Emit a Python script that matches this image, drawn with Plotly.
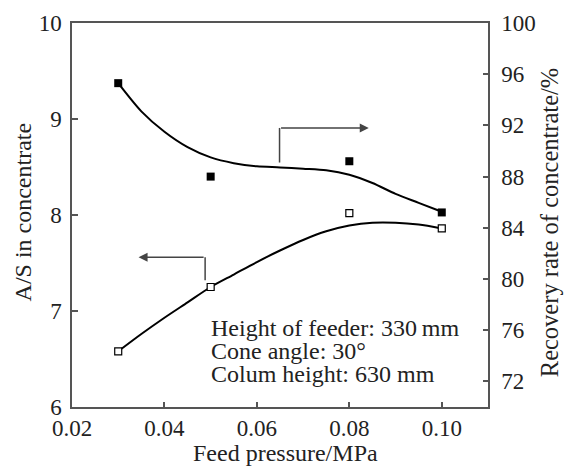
import plotly.graph_objects as go

# Measured points
pressure = [0.03, 0.05, 0.08, 0.10]
as_ratio = [6.58, 7.25, 8.02, 7.86]
recovery = [95.3, 88.0, 89.2, 85.2]

# Fitted trend lines
fit_pressure = [0.030, 0.035, 0.040, 0.045, 0.050, 0.055, 0.060, 0.065,
                0.070, 0.075, 0.080, 0.085, 0.090, 0.095, 0.100]
fit_as_ratio = [6.58, 6.76, 6.93, 7.09, 7.25, 7.38, 7.51, 7.63,
                7.74, 7.83, 7.89, 7.92, 7.92, 7.90, 7.86]
fit_recovery = [95.3, 93.1, 91.5, 90.3, 89.5, 89.05, 88.8, 88.72,
                88.62, 88.5, 88.15, 87.5, 86.65, 85.95, 85.25]

x_ticks = [0.02, 0.04, 0.06, 0.08, 0.10]
x_tick_text = ["0.02", "0.04", "0.06", "0.08", "0.10"]
left_ticks = [6, 7, 8, 9, 10]
right_ticks = [72, 76, 80, 84, 88, 92, 96, 100]

x_title = "Feed pressure/MPa"
left_title = "A/S in concentrate"
right_title = "Recovery rate of concentrate/%"
notes = ["Height of feeder: 330\u2009mm", "Cone angle: 30\u00b0", "Colum height: 630 mm"]

FONT = "Liberation Serif"
AXIS_COLOR = "#555555"
TEXT_COLOR = "#222222"

fig = go.Figure()

fig.add_trace(go.Scatter(x=fit_pressure, y=fit_as_ratio, mode="lines",
                         line=dict(color="black", width=2, shape="spline", smoothing=0.8),
                         hoverinfo="skip", showlegend=False))
fig.add_trace(go.Scatter(x=fit_pressure, y=fit_recovery, mode="lines", yaxis="y2",
                         line=dict(color="black", width=2, shape="spline", smoothing=0.8),
                         hoverinfo="skip", showlegend=False))
fig.add_trace(go.Scatter(x=pressure, y=as_ratio, mode="markers",
                         marker=dict(symbol="square", size=7, color="white",
                                     line=dict(color="black", width=1.2)),
                         showlegend=False))
fig.add_trace(go.Scatter(x=pressure, y=recovery, mode="markers", yaxis="y2",
                         marker=dict(symbol="square", size=8, color="black"),
                         showlegend=False))

# Arrow pointing to the right axis (recovery)
fig.add_shape(type="line", xref="x", yref="y2", x0=0.0649, x1=0.0649, y0=89.1, y1=91.8,
              line=dict(color="#444444", width=1.5))
fig.add_annotation(xref="x", yref="y2", axref="x", ayref="y2",
                   x=0.0842, y=91.8, ax=0.0649, ay=91.8, text="", showarrow=True,
                   arrowhead=2, arrowsize=1.2, arrowwidth=1.5, arrowcolor="#444444")

# Arrow pointing to the left axis (A/S)
fig.add_shape(type="line", xref="x", yref="y", x0=0.0488, x1=0.0488, y0=7.32, y1=7.56,
              line=dict(color="#444444", width=1.5))
fig.add_annotation(xref="x", yref="y", axref="x", ayref="y",
                   x=0.0344, y=7.56, ax=0.0488, ay=7.56, text="", showarrow=True,
                   arrowhead=2, arrowsize=1.2, arrowwidth=1.5, arrowcolor="#444444")

# Operating conditions
for i, line in enumerate(notes):
    fig.add_annotation(xref="x", yref="y", x=0.0497, y=6.82 - 0.24 * i, text=line,
                       showarrow=False, xanchor="left", yanchor="middle",
                       font=dict(family=FONT, size=24, color=TEXT_COLOR))

# Axis titles
fig.add_annotation(xref="paper", yref="paper", x=0.514, y=-0.121, text=x_title,
                   showarrow=False, xanchor="center", yanchor="middle",
                   font=dict(family=FONT, size=24, color=TEXT_COLOR))
fig.add_annotation(xref="paper", yref="paper", x=-0.118, y=0.509, text=left_title,
                   showarrow=False, xanchor="center", yanchor="middle", textangle=-90,
                   font=dict(family=FONT, size=24, color=TEXT_COLOR))
fig.add_annotation(xref="paper", yref="paper", x=1.147, y=0.479, text=right_title,
                   showarrow=False, xanchor="center", yanchor="middle", textangle=-90,
                   font=dict(family=FONT, size=24.5, color=TEXT_COLOR))

tick_font = dict(family=FONT, size=23, color=TEXT_COLOR)

fig.update_layout(
    width=566, height=468,
    margin=dict(l=72, r=78, t=23, b=61),
    paper_bgcolor="white", plot_bgcolor="white",
    font=dict(family=FONT, size=23, color=TEXT_COLOR),
    xaxis=dict(range=[0.02, 0.11], tickvals=x_ticks, ticktext=x_tick_text,
               tickfont=tick_font, automargin=False,
               ticks="inside", ticklen=5, tickwidth=1.5, tickcolor=AXIS_COLOR,
               showline=True, linecolor=AXIS_COLOR, linewidth=1.5, mirror=True,
               showgrid=False, zeroline=False),
    yaxis=dict(range=[6, 10], tickvals=left_ticks, tickfont=tick_font, automargin=False,
               ticks="inside", ticklen=6, tickwidth=1.5, tickcolor=AXIS_COLOR,
               showline=True, linecolor=AXIS_COLOR, linewidth=1.5,
               showgrid=False, zeroline=False, ticklabelstandoff=4),
    yaxis2=dict(range=[70, 100], tickvals=right_ticks, overlaying="y", side="right",
                tickfont=tick_font, automargin=False,
                ticks="inside", ticklen=5, tickwidth=1.5, tickcolor=AXIS_COLOR,
                showline=True, linecolor=AXIS_COLOR, linewidth=1.5,
                showgrid=False, zeroline=False, ticklabelstandoff=7),
)

fig.write_html("out.html")
